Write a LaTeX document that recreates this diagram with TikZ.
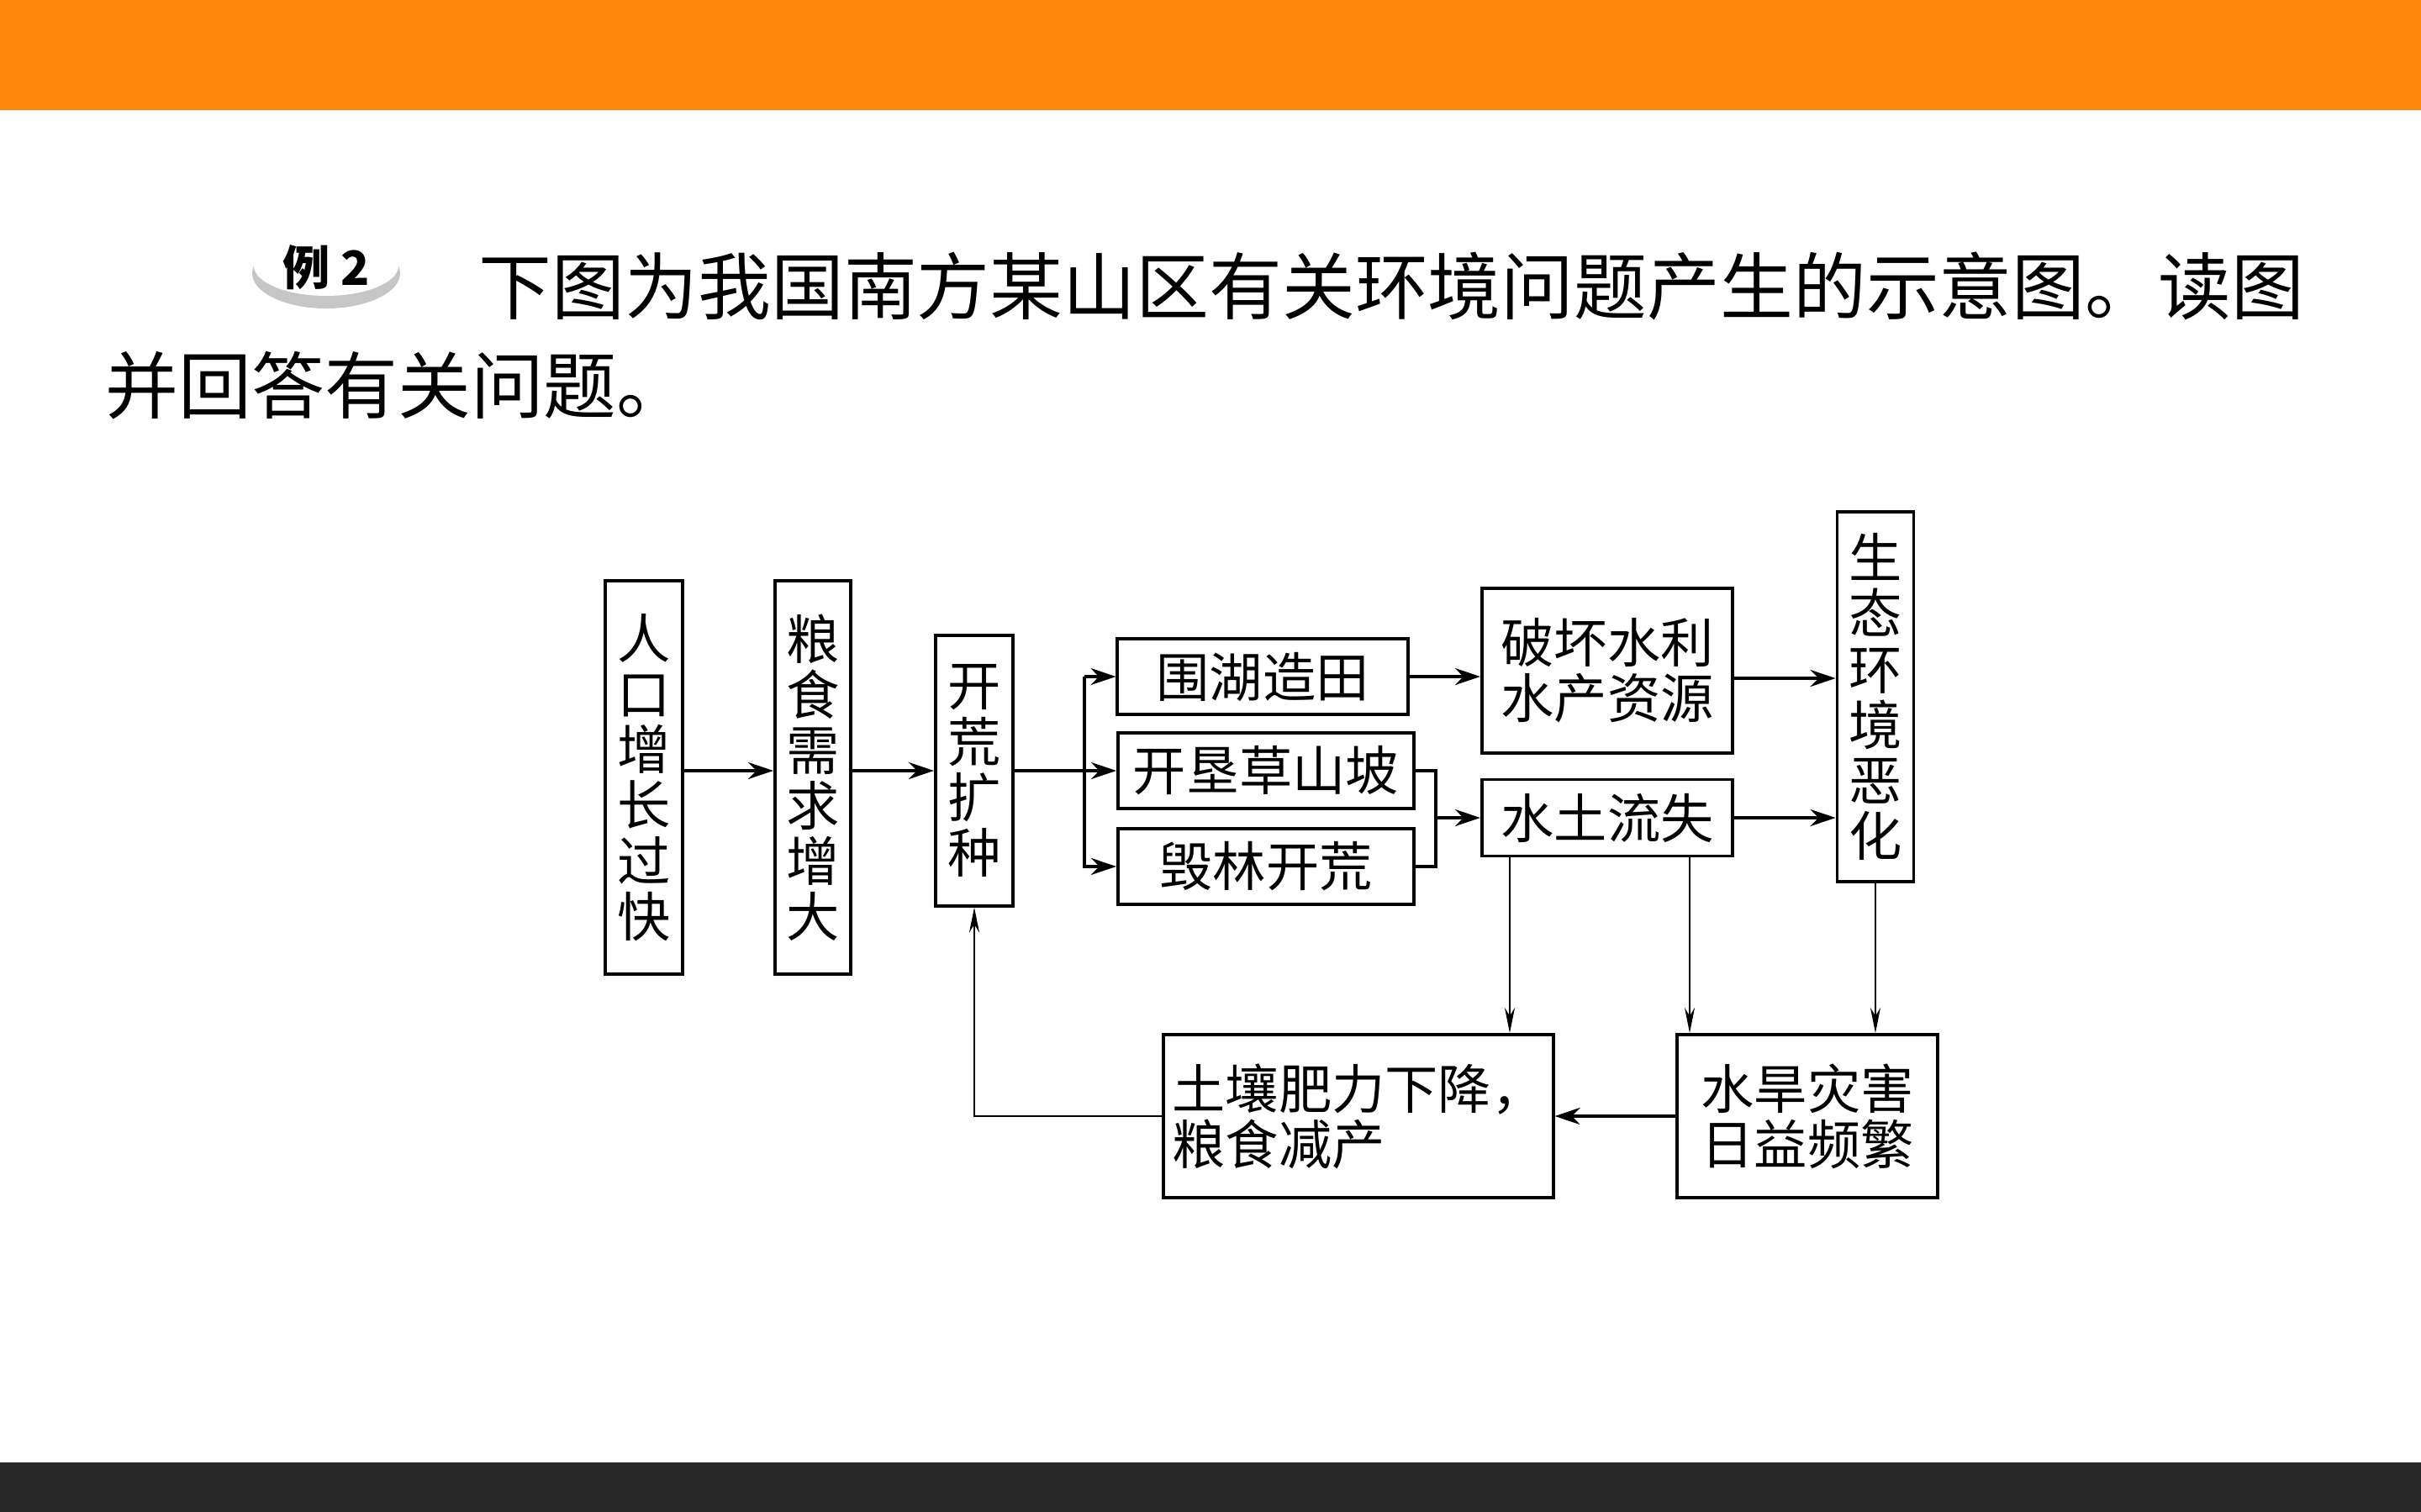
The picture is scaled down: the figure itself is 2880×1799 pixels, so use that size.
\documentclass[tikz,border=0pt]{standalone}
\usepackage{fontspec}
\setmainfont{Noto Sans CJK SC}
\usetikzlibrary{arrows.meta, positioning, calc}
\definecolor{barorange}{RGB}{255,136,10}
\definecolor{bardark}{RGB}{41,41,41}
\tikzset{
  block/.style   = {draw, rectangle, line width=1.1pt, align=center, inner sep=0pt,
                    font=\fontsize{18pt}{18.8pt}\selectfont},
  vblock/.style  = {block, minimum width=0.92cm},
  arr/.style     = {-{Stealth[length=0.3cm, width=0.2cm]}, line width=1.1pt},
  thinarr/.style = {-{Stealth[length=0.3cm, width=0.12cm]}, line width=0.6pt},
  title/.style   = {anchor=west, inner sep=0pt, font=\fontsize{24.7pt}{30pt}\selectfont}
}

\begin{document}
\begin{tikzpicture}[x=0.01cm, y=-0.01cm]
  \useasboundingbox (0,0) rectangle (2880,1799);

  % ── Slide frame ──────────────────────────────────────────────────────────
  \fill[barorange] (0,0) rectangle (2880,131);
  \fill[bardark]   (0,1740) rectangle (2880,1799);

  % ── Question text ────────────────────────────────────────────────────────
  \fill[gray!45] (388,325) ellipse [x radius=88, y radius=42];
  \fill[white]   (388,316) ellipse [x radius=86, y radius=36];
  \node[font=\fontsize{16pt}{18pt}\selectfont\bfseries] (badge) at (388,318) {例 2};
  \node[title] (title1) at (569,340) {下图为我国南方某山区有关环境问题产生的示意图。读图};
  \node[title] (title2) at (125,459) {并回答有关问题。};

  % ── Causes ───────────────────────────────────────────────────────────────
  \node[vblock, minimum height=4.68cm] (pop) at (766,925) {人\\口\\增\\长\\过\\快};
  \node[vblock, minimum height=4.68cm, minimum width=0.9cm, right=1.06cm of pop]
        (grain) {粮\\食\\需\\求\\增\\大};
  \node[vblock, minimum height=3.21cm] (reclaim) at (1159,917) {开\\荒\\扩\\种};

  % ── Ways of reclaiming ───────────────────────────────────────────────────
  \node[block, minimum width=3.45cm, minimum height=0.9cm] (lake)  at (1502,805) {围湖造田};
  \node[block, minimum width=3.52cm, minimum height=0.9cm] (slope) at (1506,917) {开垦草山坡};
  \node[block, minimum width=3.52cm, minimum height=0.9cm, below=0.2cm of slope]
        (forest) {毁林开荒};

  % ── Effects ──────────────────────────────────────────────────────────────
  \node[block, minimum width=2.98cm, minimum height=1.96cm] (water) at (1912,798) {破坏水利\\水产资源};
  \node[block, minimum width=2.98cm, minimum height=0.91cm] (erosion) at (1912,973) {水土流失};
  \node[vblock, minimum width=0.91cm, minimum height=4.39cm] (eco) at (2231,829) {生\\态\\环\\境\\恶\\化};
  \node[block, align=left, minimum width=4.63cm, minimum height=1.94cm]
        (soil) at (1616,1328) {土壤肥力下降，\\粮食减产};
  \node[block, minimum width=3.10cm, minimum height=1.94cm]
        (disaster) at (2150,1328) {水旱灾害\\日益频繁};

  % ── Connections ──────────────────────────────────────────────────────────
  \coordinate (fork) at (1290,917);
  \coordinate (join) at (1708,970);

  \draw[arr] (pop.east |- reclaim) -- (grain.west |- reclaim);
  \draw[arr] (grain.east |- reclaim) -- (reclaim.west);

  % fork to the three ways
  \draw[arr] (reclaim.east) -- (slope.west);
  \draw[arr] (fork |- lake) -- (lake.west);
  \draw[arr] (fork |- lake) -- (fork |- forest) -- (forest.west);

  % slope + forest join into erosion
  \draw[line width=1.1pt] (slope.east) -| (join |- forest) -- (forest.east);
  \draw[arr] (join |- erosion) -- (erosion.west);

  \draw[arr] (lake.east) -- (lake.east -| water.west);
  \draw[arr] ($(water.east)+(0,9)$) -- ($(water.east -| eco.west)+(0,9)$);
  \draw[arr] (erosion.east) -- (erosion.east -| eco.west);

  % downward effects
  \draw[thinarr] ($(erosion.south west)+(35,0)$) coordinate (e1) -- (e1 |- soil.north);
  \draw[thinarr] ($(erosion.south east)+(-53,0)$) coordinate (e2) -- (e2 |- disaster.north);
  \draw[thinarr] (eco.south) -- (eco.south |- disaster.north);

  \draw[arr] (disaster.west) -- (soil.east);

  % feedback loop
  \draw[thinarr, line width=0.8pt] (soil.west) -| (reclaim.south);

\end{tikzpicture}
\end{document}
